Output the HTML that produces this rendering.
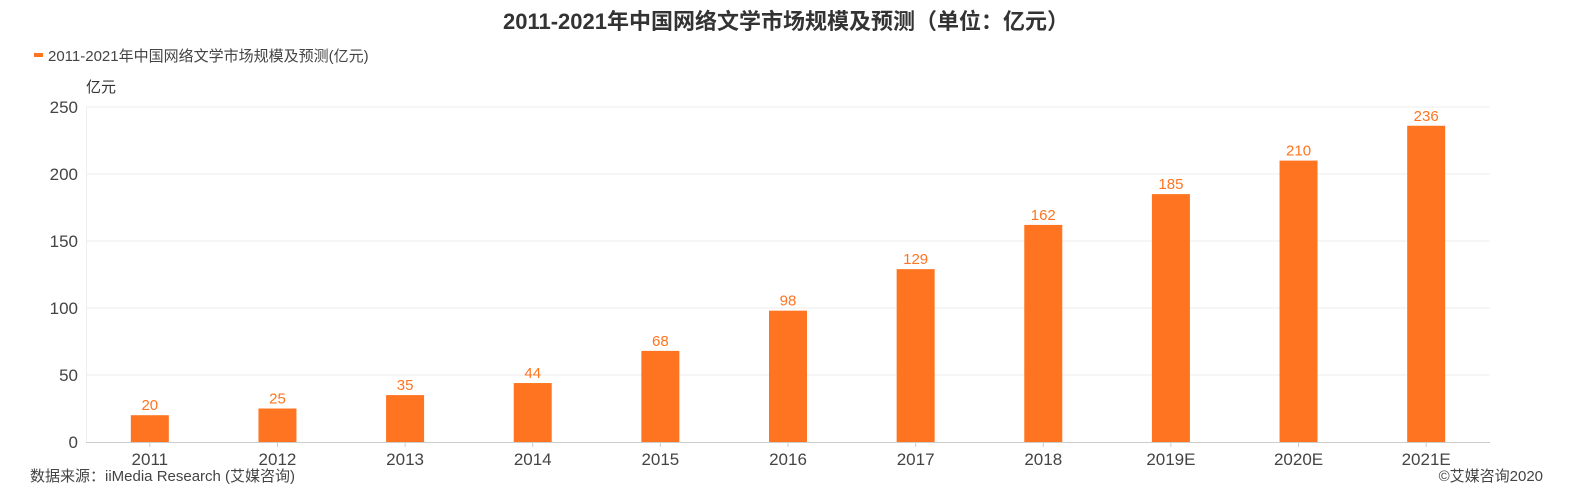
<!DOCTYPE html>
<html><head><meta charset="utf-8"><style>
html,body{margin:0;padding:0;background:#fff;width:1573px;height:500px;overflow:hidden}
svg{display:block;font-family:"Liberation Sans","Noto Sans CJK SC",sans-serif}
</style></head><body>
<svg id="chart" width="1573" height="500">
<text x="786" y="29" text-anchor="middle" font-size="22" font-weight="bold" fill="#333">2011-2021年中国网络文学市场规模及预测（单位：亿元）</text>
<rect x="34" y="53" width="9" height="4" fill="#ff7420"/>
<text x="48" y="61" font-size="15" fill="#444">2011-2021年中国网络文学市场规模及预测(亿元)</text>
<text x="86" y="92" font-size="15" fill="#333">亿元</text>
<text x="30" y="481" font-size="15" fill="#444">数据来源：iiMedia Research (艾媒咨询)</text>
<text x="1543" y="481" text-anchor="end" font-size="15" fill="#444">©艾媒咨询2020</text>
<g id="plot"></g>
</svg>
<script>
const categories=["2011","2012","2013","2014","2015","2016","2017","2018","2019E","2020E","2021E"];
const values=[20,25,35,44,68,98,129,162,185,210,236];
const yTicks=[0,50,100,150,200,250];
const NS="http://www.w3.org/2000/svg";
const g=document.getElementById("plot");
const x0=86,x1=1490,yb=442,yt=107,ymax=250;
const y=v=>yb-(yb-yt)*v/ymax;
const bw=(x1-x0)/categories.length;
const xc=i=>x0+bw*(i+0.5);
function mk(t,a){const e=document.createElementNS(NS,t);for(const k in a)e.setAttribute(k,a[k]);g.appendChild(e);return e;}
yTicks.forEach(t=>{
 if(t>0){const l=mk("line",{x1:x0,x2:x1,y1:y(t),y2:y(t),stroke:"#eee"});
 
 }
 const tx=mk("text",{x:x0-8,y:y(t)+6,"text-anchor":"end","font-size":"17",fill:"#444"});tx.textContent=t;
 
 
});
const ax=mk("line",{x1:x0,x2:x1,y1:yb+0.5,y2:yb+0.5,stroke:"#ccc"});


const ay=mk("line",{x1:x0+0.5,x2:x0+0.5,y1:yt,y2:yb,stroke:"#eee"});


categories.forEach((c,i)=>{
 const b=mk("rect",{x:xc(i)-19,y:y(values[i]),width:38,height:yb-y(values[i]),fill:"#ff7420"});
 
 
 const v=mk("text",{x:xc(i),y:y(values[i])-5,"text-anchor":"middle","font-size":"15",fill:"#ff7420"});v.textContent=values[i];
 
 
 const tk=mk("line",{x1:xc(i),x2:xc(i),y1:yb,y2:yb+5,stroke:"#ccc"});
 
 
 const l=mk("text",{x:xc(i),y:yb+23,"text-anchor":"middle","font-size":"17",fill:"#444"});l.textContent=c;
 
 
});
</script>
</body></html>
